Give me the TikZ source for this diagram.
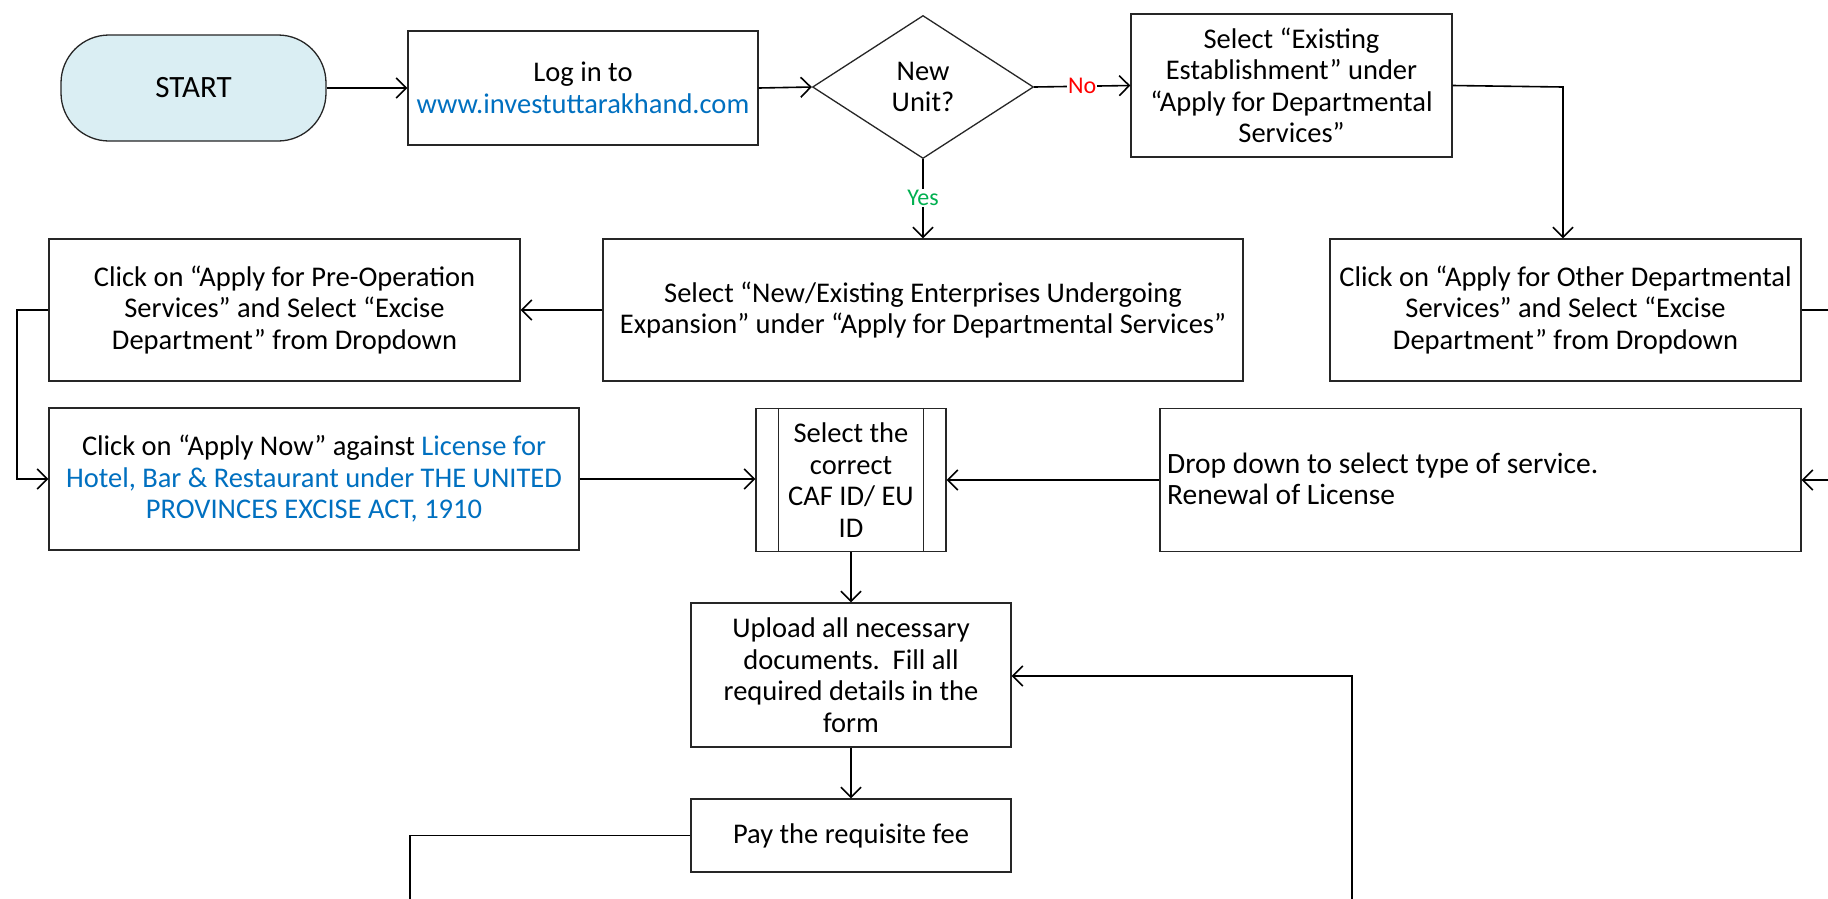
\documentclass[tikz,border=0pt]{standalone}
\usepackage{fontspec}
\setmainfont{Carlito}
\usetikzlibrary{arrows.meta,shapes.geometric}
\definecolor{linkblue}{HTML}{0070C0}
\definecolor{startfill}{HTML}{DAEEF3}
\definecolor{noreed}{HTML}{FF0000}
\definecolor{yesgreen}{HTML}{00B050}
\tikzset{
  box/.style={draw=black!85, line width=1.3pt, fill=white, align=center, inner sep=4pt,
    font=\fontsize{28.5}{31.5}\selectfont},
  conn/.style={line width=1.6pt, -{Straight Barb[length=10pt,width=20pt]}},
  plain/.style={line width=1.6pt},
  lbl/.style={fill=white, inner sep=1pt, font=\fontsize{24}{26}\selectfont},
}
\begin{document}
\begin{tikzpicture}[x=1pt,y=-1pt]
\useasboundingbox (0,0) rectangle (1828,898);
\clip (0,0) rectangle (1828,898);
\fill[white] (0,0) rectangle (1828,898);

\node[box, fill=startfill, rounded corners=48pt, minimum width=265pt, minimum height=106pt, font=\fontsize{31}{34}\selectfont] (start) at (193.5,88) {START};
\node[box, minimum width=350pt, minimum height=114pt] (login) at (583,88) {Log in to\\{\color{linkblue}www.investuttarakhand.com}};
\node[box, shape=diamond, aspect=1.55, inner sep=0pt, minimum width=221pt, minimum height=143pt] (unit) at (923,87) {New\\Unit?};
\node[box, minimum width=321pt, minimum height=143pt] (exist) at (1291.5,85.5) {Select “Existing\\Establishment” under\\“Apply for Departmental\\Services”};
\node[box, minimum width=471pt, minimum height=142pt] (preop) at (284.5,310) {Click on “Apply for Pre-Operation\\Services” and Select “Excise\\Department” from Dropdown};
\node[box, minimum width=640pt, minimum height=142pt] (newex) at (923,310) {Select “New/Existing Enterprises Undergoing\\Expansion” under “Apply for Departmental Services”};
\node[box, minimum width=471pt, minimum height=142pt] (other) at (1565.5,310) {Click on “Apply for Other Departmental\\Services” and Select “Excise\\Department” from Dropdown};
\node[box, minimum width=530pt, minimum height=142pt] (apply) at (314,479) {Click on “Apply Now” against {\color{linkblue}License for}\\{\color{linkblue}Hotel, Bar \& Restaurant under THE UNITED}\\{\color{linkblue}PROVINCES EXCISE ACT, 1910}};
\node[box, minimum width=190pt, minimum height=143pt] (caf) at (851,480) {Select the\\correct\\CAF ID/ EU\\ID};
\draw[line width=1.3pt, draw=black!85] ([xshift=23pt]caf.north west) -- ([xshift=23pt]caf.south west)
  ([xshift=-23pt]caf.north east) -- ([xshift=-23pt]caf.south east);
\node[box, minimum width=641pt, minimum height=143pt] (drop) at (1480.5,480) {};
\node[anchor=west, align=left, inner sep=0pt, font=\fontsize{29.5}{31.5}\selectfont] (droptxt) at (1167,479) {Drop down to select type of service.\\Renewal of License};
\node[box, minimum width=320pt, minimum height=144pt] (upload) at (851,675) {Upload all necessary\\documents.\ \ Fill all\\required details in the\\form};
\node[box, minimum width=320pt, minimum height=73pt] (pay) at (851,835.5) {Pay the requisite fee};

\coordinate (pl1) at (17,310);
\coordinate (pl2) at (17,479);
\coordinate (ex1) at (1563,87);
\coordinate (rr1) at (1845,310);
\coordinate (rr2) at (1845,480);
\coordinate (pb1) at (410,835.5);
\coordinate (pb2) at (410,915);
\coordinate (ub1) at (1352,915);
\coordinate (ub2) at (1352,676);

\draw[conn] (start.east) -- (login.west);
\draw[conn] (login.east) -- (unit.west);
\draw[conn] (unit.east) -- node[lbl, text=noreed] {No} (exist.west);
\draw[conn] (exist.east) -- (ex1) -- (ex1 |- other.north);
\draw[conn] (unit.south) -- node[lbl, text=yesgreen, pos=0.49] {Yes} (newex.north);
\draw[conn] (newex.west) -- (preop.east);
\draw[conn] (preop.west) -- (pl1) -- (pl2) -- (apply.west);
\draw[conn] (apply.east) -- (apply.east -| caf.west);
\draw[conn] (drop.west) -- (drop.west -| caf.east);
\draw[conn] (caf.south) -- (upload.north);
\draw[conn] (upload.south) -- (pay.north);
\draw[plain] (other.east) -- (rr1);
\draw[conn] (rr2) -- (drop.east);
\draw[plain] (pay.west) -- (pb1) -- (pb2);
\draw[conn] (ub1) -- (ub2) -- (ub2 -| upload.east);
\end{tikzpicture}
\end{document}
